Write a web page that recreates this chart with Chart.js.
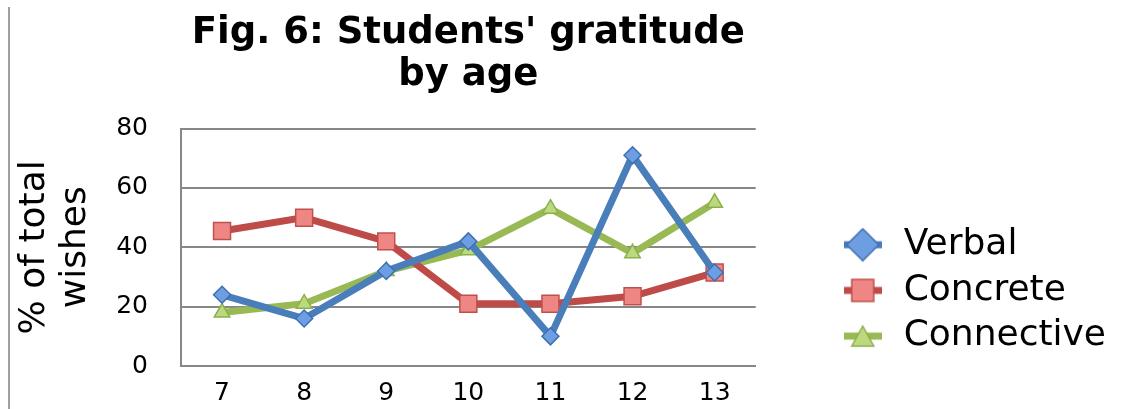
<!DOCTYPE html>
<html>
<head>
<meta charset="utf-8">
<script src="https://cdn.jsdelivr.net/npm/chart.js@4"></script>
<style>
    body { margin: 0; background: #fff; overflow: hidden; }
    #wrap { position: relative; width: 1123px; height: 409px; }
    #frame { position: absolute; left: 8px; top: 7px; width: 2px; height: 402px; background: #a0a0a0; }
</style>
</head>
<body>
<div id="wrap">
    <div id="frame"></div>
    <canvas id="gratitudeChart"></canvas>
</div>
<script>
// data
const ages = ['7', '8', '9', '10', '11', '12', '13'];
const verbal = [24, 16, 32, 42, 10, 71, 31.5];
const concrete = [45.5, 50, 42, 21, 21, 23.5, 31.5];
const connective = [18, 21, 32, 39, 53, 38, 55];
const yTicks = [0, 20, 40, 60, 80];

Chart.defaults.font.family = "'DejaVu Sans', sans-serif";
Chart.defaults.color = '#000';

// little line + marker pictures for the legend
function legendIcon(lineColor, fill, stroke, shape) {
    const c = document.createElement('canvas');
    c.width = 38;
    c.height = 34;
    const g = c.getContext('2d');
    g.strokeStyle = lineColor;
    g.lineWidth = 7;
    g.beginPath();
    g.moveTo(0, 17);
    g.lineTo(38, 17);
    g.stroke();

    g.fillStyle = fill;
    g.strokeStyle = stroke;
    g.lineWidth = 1.5;
    g.beginPath();
    if (shape === 'diamond') {
        g.moveTo(19, 1); g.lineTo(35, 17); g.lineTo(19, 33); g.lineTo(3, 17);
    } else if (shape === 'square') {
        g.rect(8, 6, 22, 22);
    } else {
        g.moveTo(19, 7); g.lineTo(30, 27); g.lineTo(8, 27);
    }
    g.closePath();
    g.fill();
    g.stroke();
    return c;
}

const icons = [
    legendIcon('#4a7ebb', '#6d9ee2', '#3f70b3', 'diamond'),
    legendIcon('#be4b48', '#ee8784', '#c0504d', 'square'),
    legendIcon('#98b954', '#bcd97f', '#8cb04a', 'triangle')
];

const ctx = document.getElementById('gratitudeChart').getContext('2d');
const gratitudeChart = new Chart(ctx, {
    type: 'line',
    data: {
        labels: ages,
        datasets: [{
            label: 'Verbal',
            data: verbal,
            borderColor: '#4a7ebb',
            borderWidth: 7,
            pointStyle: 'rectRot',
            pointRadius: 8.5,
            pointBackgroundColor: '#6d9ee2',
            pointBorderColor: '#3f70b3',
            pointBorderWidth: 1.5
        }, {
            label: 'Concrete',
            data: concrete,
            borderColor: '#be4b48',
            borderWidth: 7,
            pointStyle: 'rect',
            pointRadius: 12,
            pointBackgroundColor: '#ee8784',
            pointBorderColor: '#c0504d',
            pointBorderWidth: 1.5
        }, {
            label: 'Connective',
            data: connective,
            borderColor: '#98b954',
            borderWidth: 7,
            pointStyle: 'triangle',
            pointRadius: 9,
            pointBackgroundColor: '#bcd97f',
            pointBorderColor: '#8cb04a',
            pointBorderWidth: 1.5
        }]
    },
    options: {
        responsive: true,
        maintainAspectRatio: false,
        animation: false,
        layout: { padding: { left: 14, right: 7, top: 0, bottom: 0 } },
        plugins: {
            title: {
                display: true,
                fullSize: false,
                text: ["Fig. 6: Students' gratitude", 'by age'],
                font: { size: 37, weight: 'bold', lineHeight: 1.16 },
                color: '#000',
                padding: { top: 11.5, bottom: 31.3 }
            },
            legend: {
                position: 'right',
                align: 'start',
                maxWidth: 330,
                title: { display: true, text: ' ', padding: { top: 202.6, bottom: 0 } },
                labels: {
                    usePointStyle: true,
                    pointStyleWidth: 46,
                    padding: 9.7,
                    font: { size: 36 },
                    color: '#000',
                    generateLabels(chart) {
                        const items = Chart.defaults.plugins.legend.labels.generateLabels(chart);
                        items.forEach((item, i) => { item.pointStyle = icons[i]; });
                        return items;
                    }
                }
            },
            tooltip: { enabled: false }
        },
        scales: {
            x: {
                offset: true,
                grid: { display: false, drawTicks: false },
                border: { display: true, color: '#878787', width: 2 },
                ticks: { padding: 12, font: { size: 25 }, color: '#000' },
                afterFit(scale) { scale.height = 43; }
            },
            y: {
                min: 0,
                max: 80,
                afterBuildTicks(scale) {
                    scale.ticks = yTicks.map(v => ({ value: v }));
                },
                grid: { color: '#878787', lineWidth: 2, drawTicks: false },
                border: { display: true, color: '#878787', width: 2 },
                ticks: { padding: 33, font: { size: 25 }, color: '#000' },
                title: {
                    display: true,
                    text: ['% of total', 'wishes'],
                    font: { size: 36, lineHeight: 1.15 },
                    color: '#000',
                    padding: { top: 0, bottom: 0 }
                },
                afterFit(scale) {
                    scale.width = 167;
                    // the big tick padding should not eat into the plot height
                    scale.paddingTop = 0;
                    scale.paddingBottom = 0;
                }
            },
            // empty strip between the plot and the legend
            gap: {
                type: 'linear',
                position: 'right',
                display: true,
                grid: { display: false, drawTicks: false },
                border: { display: false },
                ticks: { display: false },
                afterFit(scale) { scale.width = 74.3; }
            }
        }
    }
});
</script>
</body>
</html>
